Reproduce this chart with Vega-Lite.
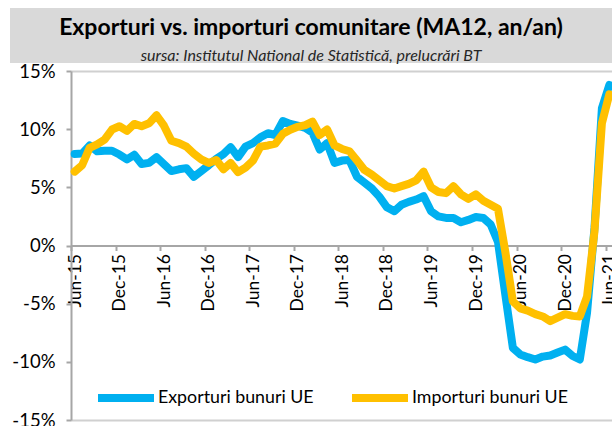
{
  "$schema": "https://vega.github.io/schema/vega-lite/v6.json",
  "padding": {"left": 10, "top": 8, "right": 0, "bottom": 0},
  "background": "white",
  "config": {
    "view": {"stroke": null},
    "font": "Lato",
    "title": {"font": "Lato"}
  },
  "spacing": -2,
  "vconcat": [
    {
      "width": 602,
      "height": 55,
      "data": {"values": [{"band": "title"}]},
      "mark": {"type": "rect", "color": "#d9d9d9"},
      "encoding": {},
      "title": {
        "text": "Exporturi vs. importuri comunitare (MA12, an/an)",
        "subtitle": "sursa: Institutul National de Statistică, prelucrări BT",
        "anchor": "middle",
        "offset": -56,
        "fontSize": 23,
        "fontWeight": "bold",
        "color": "#000000",
        "subtitleFont": "Lato",
        "subtitleFontStyle": "italic",
        "subtitleFontSize": 16,
        "subtitleColor": "#262626",
        "subtitlePadding": 8
      }
    },
    {
      "spacing": 0,
      "hconcat": [
        {
          "width": 1,
          "height": 349,
          "data": {"values": []},
          "mark": "point",
          "encoding": {}
        },
        {
          "width": 542,
          "height": 349,
          "data": {
            "values": [
              {"d": "2015-06-01", "Exporturi bunuri UE": 7.87, "Importuri bunuri UE": 6.35},
              {"d": "2015-07-01", "Exporturi bunuri UE": 7.9, "Importuri bunuri UE": 6.9},
              {"d": "2015-08-01", "Exporturi bunuri UE": 8.6, "Importuri bunuri UE": 8.4},
              {"d": "2015-09-01", "Exporturi bunuri UE": 8.1, "Importuri bunuri UE": 8.7},
              {"d": "2015-10-01", "Exporturi bunuri UE": 8.15, "Importuri bunuri UE": 9.1},
              {"d": "2015-11-01", "Exporturi bunuri UE": 8.15, "Importuri bunuri UE": 9.97},
              {"d": "2015-12-01", "Exporturi bunuri UE": 7.82, "Importuri bunuri UE": 10.25},
              {"d": "2016-01-01", "Exporturi bunuri UE": 7.4, "Importuri bunuri UE": 9.85},
              {"d": "2016-02-01", "Exporturi bunuri UE": 7.8, "Importuri bunuri UE": 10.45},
              {"d": "2016-03-01", "Exporturi bunuri UE": 7.0, "Importuri bunuri UE": 10.25},
              {"d": "2016-04-01", "Exporturi bunuri UE": 7.1, "Importuri bunuri UE": 10.5},
              {"d": "2016-05-01", "Exporturi bunuri UE": 7.6, "Importuri bunuri UE": 11.2},
              {"d": "2016-06-01", "Exporturi bunuri UE": 7.0, "Importuri bunuri UE": 10.3},
              {"d": "2016-07-01", "Exporturi bunuri UE": 6.4, "Importuri bunuri UE": 9.0},
              {"d": "2016-08-01", "Exporturi bunuri UE": 6.55, "Importuri bunuri UE": 8.8},
              {"d": "2016-09-01", "Exporturi bunuri UE": 6.65, "Importuri bunuri UE": 8.5},
              {"d": "2016-10-01", "Exporturi bunuri UE": 5.9, "Importuri bunuri UE": 7.9},
              {"d": "2016-11-01", "Exporturi bunuri UE": 6.4, "Importuri bunuri UE": 7.4},
              {"d": "2016-12-01", "Exporturi bunuri UE": 6.9, "Importuri bunuri UE": 7.1},
              {"d": "2017-01-01", "Exporturi bunuri UE": 7.45, "Importuri bunuri UE": 7.35},
              {"d": "2017-02-01", "Exporturi bunuri UE": 7.85, "Importuri bunuri UE": 6.55},
              {"d": "2017-03-01", "Exporturi bunuri UE": 8.45, "Importuri bunuri UE": 7.1},
              {"d": "2017-04-01", "Exporturi bunuri UE": 7.6, "Importuri bunuri UE": 6.3},
              {"d": "2017-05-01", "Exporturi bunuri UE": 8.5, "Importuri bunuri UE": 6.7},
              {"d": "2017-06-01", "Exporturi bunuri UE": 8.8, "Importuri bunuri UE": 7.3},
              {"d": "2017-07-01", "Exporturi bunuri UE": 9.3, "Importuri bunuri UE": 8.5},
              {"d": "2017-08-01", "Exporturi bunuri UE": 9.65, "Importuri bunuri UE": 8.6},
              {"d": "2017-09-01", "Exporturi bunuri UE": 9.5, "Importuri bunuri UE": 8.75},
              {"d": "2017-10-01", "Exporturi bunuri UE": 10.7, "Importuri bunuri UE": 9.6},
              {"d": "2017-11-01", "Exporturi bunuri UE": 10.45, "Importuri bunuri UE": 9.95},
              {"d": "2017-12-01", "Exporturi bunuri UE": 10.3, "Importuri bunuri UE": 10.2},
              {"d": "2018-01-01", "Exporturi bunuri UE": 10.1, "Importuri bunuri UE": 10.35},
              {"d": "2018-02-01", "Exporturi bunuri UE": 9.7, "Importuri bunuri UE": 10.65},
              {"d": "2018-03-01", "Exporturi bunuri UE": 8.25, "Importuri bunuri UE": 9.5},
              {"d": "2018-04-01", "Exporturi bunuri UE": 8.8, "Importuri bunuri UE": 9.97},
              {"d": "2018-05-01", "Exporturi bunuri UE": 7.1, "Importuri bunuri UE": 8.6},
              {"d": "2018-06-01", "Exporturi bunuri UE": 7.3, "Importuri bunuri UE": 8.3},
              {"d": "2018-07-01", "Exporturi bunuri UE": 7.35, "Importuri bunuri UE": 8.1},
              {"d": "2018-08-01", "Exporturi bunuri UE": 5.9, "Importuri bunuri UE": 7.3},
              {"d": "2018-09-01", "Exporturi bunuri UE": 5.4, "Importuri bunuri UE": 6.5},
              {"d": "2018-10-01", "Exporturi bunuri UE": 4.9, "Importuri bunuri UE": 6.1},
              {"d": "2018-11-01", "Exporturi bunuri UE": 4.2, "Importuri bunuri UE": 5.6},
              {"d": "2018-12-01", "Exporturi bunuri UE": 3.3, "Importuri bunuri UE": 5.1},
              {"d": "2019-01-01", "Exporturi bunuri UE": 2.95, "Importuri bunuri UE": 4.9},
              {"d": "2019-02-01", "Exporturi bunuri UE": 3.5, "Importuri bunuri UE": 5.1},
              {"d": "2019-03-01", "Exporturi bunuri UE": 3.75, "Importuri bunuri UE": 5.3},
              {"d": "2019-04-01", "Exporturi bunuri UE": 3.95, "Importuri bunuri UE": 5.6},
              {"d": "2019-05-01", "Exporturi bunuri UE": 4.24, "Importuri bunuri UE": 6.35},
              {"d": "2019-06-01", "Exporturi bunuri UE": 2.95, "Importuri bunuri UE": 5.0},
              {"d": "2019-07-01", "Exporturi bunuri UE": 2.5, "Importuri bunuri UE": 4.6},
              {"d": "2019-08-01", "Exporturi bunuri UE": 2.37, "Importuri bunuri UE": 4.5},
              {"d": "2019-09-01", "Exporturi bunuri UE": 2.37, "Importuri bunuri UE": 5.1},
              {"d": "2019-10-01", "Exporturi bunuri UE": 2.0, "Importuri bunuri UE": 4.4},
              {"d": "2019-11-01", "Exporturi bunuri UE": 2.2, "Importuri bunuri UE": 4.0},
              {"d": "2019-12-01", "Exporturi bunuri UE": 2.45, "Importuri bunuri UE": 4.4},
              {"d": "2020-01-01", "Exporturi bunuri UE": 2.37, "Importuri bunuri UE": 3.85},
              {"d": "2020-02-01", "Exporturi bunuri UE": 1.8, "Importuri bunuri UE": 3.5},
              {"d": "2020-03-01", "Exporturi bunuri UE": 0.3, "Importuri bunuri UE": 3.15},
              {"d": "2020-04-01", "Exporturi bunuri UE": -4.3, "Importuri bunuri UE": -0.6},
              {"d": "2020-05-01", "Exporturi bunuri UE": -8.8, "Importuri bunuri UE": -4.8},
              {"d": "2020-06-01", "Exporturi bunuri UE": -9.36, "Importuri bunuri UE": -5.4},
              {"d": "2020-07-01", "Exporturi bunuri UE": -9.6, "Importuri bunuri UE": -5.6},
              {"d": "2020-08-01", "Exporturi bunuri UE": -9.8, "Importuri bunuri UE": -5.9},
              {"d": "2020-09-01", "Exporturi bunuri UE": -9.55, "Importuri bunuri UE": -6.1},
              {"d": "2020-10-01", "Exporturi bunuri UE": -9.45, "Importuri bunuri UE": -6.5},
              {"d": "2020-11-01", "Exporturi bunuri UE": -9.2, "Importuri bunuri UE": -6.2},
              {"d": "2020-12-01", "Exporturi bunuri UE": -8.95, "Importuri bunuri UE": -5.9},
              {"d": "2021-01-01", "Exporturi bunuri UE": -9.5, "Importuri bunuri UE": -6.05},
              {"d": "2021-02-01", "Exporturi bunuri UE": -9.8, "Importuri bunuri UE": -6.1},
              {"d": "2021-03-01", "Exporturi bunuri UE": -5.8, "Importuri bunuri UE": -4.4},
              {"d": "2021-04-01", "Exporturi bunuri UE": 1.5, "Importuri bunuri UE": 1.2},
              {"d": "2021-05-01", "Exporturi bunuri UE": 11.8, "Importuri bunuri UE": 10.5},
              {"d": "2021-06-01", "Exporturi bunuri UE": 13.8, "Importuri bunuri UE": 13.0}
            ]
          },
          "transform": [
            {"fold": ["Exporturi bunuri UE", "Importuri bunuri UE"], "as": ["serie", "val"]}
          ],
          "mark": {"type": "line", "strokeWidth": 8, "strokeCap": "round", "strokeJoin": "round"},
          "encoding": {
            "x": {
              "field": "d",
              "timeUnit": "utcyearmonth",
              "type": "temporal",
              "bandPosition": 0.5,
              "scale": {"domain": [{"year": 2015, "month": 6, "date": 1, "utc": true}, {"year": 2021, "month": 7, "date": 1, "utc": true}]},
              "axis": {
                "title": null,
                "values": [
                  {"year": 2015, "month": 6, "date": 1, "utc": true},
                  {"year": 2015, "month": 12, "date": 1, "utc": true},
                  {"year": 2016, "month": 6, "date": 1, "utc": true},
                  {"year": 2016, "month": 12, "date": 1, "utc": true},
                  {"year": 2017, "month": 6, "date": 1, "utc": true},
                  {"year": 2017, "month": 12, "date": 1, "utc": true},
                  {"year": 2018, "month": 6, "date": 1, "utc": true},
                  {"year": 2018, "month": 12, "date": 1, "utc": true},
                  {"year": 2019, "month": 6, "date": 1, "utc": true},
                  {"year": 2019, "month": 12, "date": 1, "utc": true},
                  {"year": 2020, "month": 6, "date": 1, "utc": true},
                  {"year": 2020, "month": 12, "date": 1, "utc": true},
                  {"year": 2021, "month": 6, "date": 1, "utc": true}
                ],
                "format": "%b-%y",
                "labelAngle": -90,
                "labelAlign": "right",
                "labelBaseline": "middle",
                "labelOffset": 4,
                "labelPadding": 3,
                "labelFontSize": 17.5,
                "labelColor": "#000000",
                "labelFlush": false,
                "labelOverlap": false,
                "offset": -174.5,
                "tickSize": 5,
                "tickWidth": 2,
                "tickColor": "#a6a6a6",
                "domainColor": "#a6a6a6",
                "domainWidth": 2,
                "grid": false
              }
            },
            "y": {
              "field": "val",
              "type": "quantitative",
              "scale": {"domain": [-15, 15], "nice": false, "zero": false},
              "axis": {
                "title": null,
                "values": [-15, -10, -5, 0, 5, 10, 15],
                "labelExpr": "datum.value + '%'",
                "labelFontSize": 18.5,
                "labelColor": "#000000",
                "labelPadding": 11,
                "minExtent": 55,
                "maxExtent": 59,
                "tickSize": 5,
                "tickWidth": 2,
                "tickColor": "#a6a6a6",
                "domainColor": "#a6a6a6",
                "domainWidth": 2,
                "grid": true,
                "gridColor": "#d0d0d0",
                "gridWidth": 2,
                "gridOpacity": {"condition": {"test": "abs(datum.value) == 15", "value": 1}, "value": 0}
              }
            },
            "color": {
              "field": "serie",
              "type": "nominal",
              "scale": {"domain": ["Exporturi bunuri UE", "Importuri bunuri UE"], "range": ["#00b0f0", "#ffc000"]},
              "legend": {
                "title": null,
                "orient": "none",
                "legendX": 84,
                "legendY": 358,
                "direction": "horizontal",
                "symbolType": "stroke",
                "symbolSize": 3136,
                "symbolStrokeWidth": 8,
                "labelFontSize": 17.8,
                "labelColor": "#000000",
                "labelOffset": 0,
                "columnPadding": 22,
                "padding": 0
              }
            }
          }
        }
      ]
    }
  ]
}
